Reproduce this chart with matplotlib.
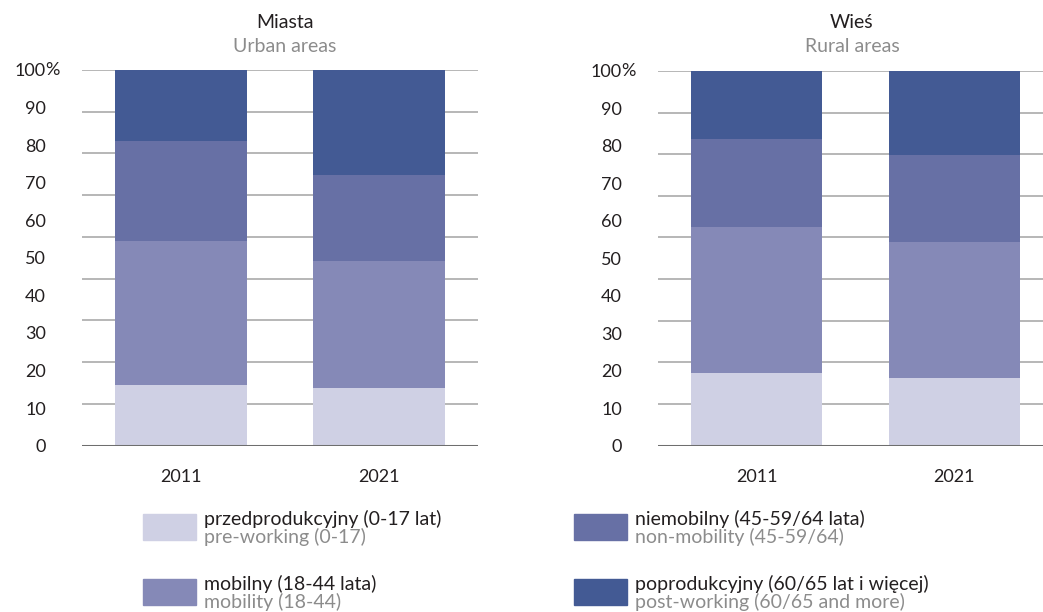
import matplotlib
matplotlib.use("Agg")
import matplotlib.pyplot as plt
import numpy as np

plt.rcParams['font.family'] = ['Lato', 'DejaVu Sans']

years = ["2011", "2021"]
groups_pl = ["przedprodukcyjny (0-17 lat)", "mobilny (18-44 lata)",
             "niemobilny (45-59/64 lata)", "poprodukcyjny (60/65 lat i więcej)"]
groups_en = ["pre-working (0-17)", "mobility (18-44)",
             "non-mobility (45-59/64)", "post-working (60/65 and more)"]
colors = ["#cfd0e4", "#8589b7", "#6770a5", "#435a94"]

# shares in %, order: pre, mobile, non-mobile, post
urban_2011 = [16.1, 38.4, 26.6, 18.9]
urban_2021 = [15.4, 33.8, 22.9, 27.9]
rural_2011 = [19.4, 39.0, 23.5, 18.1]
rural_2021 = [18.1, 36.3, 23.1, 22.5]

yticks = [0, 10, 20, 30, 40, 50, 60, 70, 80, 90, 100]

fig = plt.figure(figsize=(10.43, 6.12), dpi=100)

panels = [
    ("Miasta", "Urban areas", [urban_2011, urban_2021], [82 / 1043, 0.2717, 396 / 1043, 0.614], (-0.5, 1.5), 285),
    ("Wieś", "Rural areas", [rural_2011, rural_2021], [658 / 1043, 0.2717, 385 / 1043, 0.6125], (-0.5, 1.45), 852),
]

for title_pl, title_en, data, pos, xl, tx in panels:
    ax = fig.add_axes(pos)
    vals = np.array(data)  # years x groups
    x = np.arange(len(years))
    # grid lines (drawn as in the original: 9 equal intervals)
    for g in np.linspace(0, 100, 10)[1:]:
        ax.axhline(g, color="#a3a3a3", lw=1.1, zorder=0)
    bottom = np.zeros(len(years))
    for i in range(vals.shape[1]):
        ax.bar(x, vals[:, i], bottom=bottom, width=0.665, color=colors[i], zorder=2)
        bottom += vals[:, i]
    ax.axhline(0, color="#6e6e6e", lw=2.2, zorder=3)
    ax.set_xlim(*xl)
    ax.set_ylim(0, 100)
    for s in ax.spines.values():
        s.set_visible(False)
    ax.set_xticks(x, years, fontsize=13, color="#231f20")
    ax.set_yticks(yticks, [str(t) for t in yticks], fontsize=13, color="#231f20")
    ax.tick_params(axis="x", length=0, pad=17)
    ax.tick_params(axis="y", length=0, pad=26)
    ax.annotate("%", xy=(0, 100), xycoords=("axes fraction", "data"),
                xytext=(-37, 0), textcoords="offset pixels",
                ha="left", va="center", fontsize=13, color="#231f20")
    fig.text(tx / 1043, 1 - 23 / 612, title_pl, ha="center", va="center", fontsize=14, color="#231f20")
    fig.text(tx / 1043, 1 - 46 / 612, title_en, ha="center", va="center", fontsize=14, color="#8c8c8c")

# legend
leg_pos = [(143, 514), (143, 579), (574, 514), (574, 579)]
for i, (px, py) in enumerate(leg_pos):
    fig.patches.append(plt.Rectangle((px / 1043, 1 - (py + 26) / 612), 53 / 1043, 26 / 612,
                                     transform=fig.transFigure, color=colors[i]))
    fig.text((px + 61) / 1043, 1 - (py + 5) / 612, groups_pl[i], ha="left", va="center",
             fontsize=14, color="#231f20")
    fig.text((px + 61) / 1043, 1 - (py + 23) / 612, groups_en[i], ha="left", va="center",
             fontsize=14, color="#8c8c8c")

fig.savefig("out.png", dpi=100)
